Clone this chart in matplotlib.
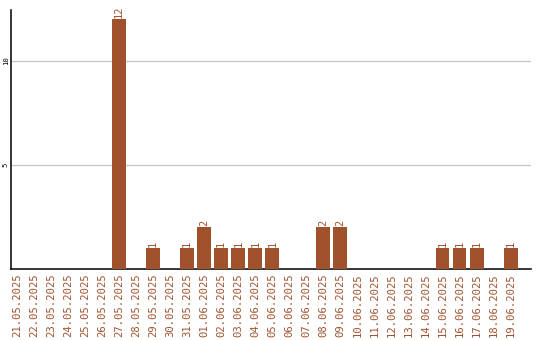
import matplotlib
matplotlib.use("Agg")
import matplotlib.pyplot as plt

dates = ["21.05.2025", "22.05.2025", "23.05.2025", "24.05.2025", "25.05.2025",
         "26.05.2025", "27.05.2025", "28.05.2025", "29.05.2025", "30.05.2025",
         "31.05.2025", "01.06.2025", "02.06.2025", "03.06.2025", "04.06.2025",
         "05.06.2025", "06.06.2025", "07.06.2025", "08.06.2025", "09.06.2025",
         "10.06.2025", "11.06.2025", "12.06.2025", "13.06.2025", "14.06.2025",
         "15.06.2025", "16.06.2025", "17.06.2025", "18.06.2025", "19.06.2025"]
counts = [0, 0, 0, 0, 0, 0, 12, 0, 1, 0,
          1, 2, 1, 1, 1, 1, 0, 0, 2, 2,
          0, 0, 0, 0, 0, 1, 1, 1, 0, 1]
yticks = [5, 10]

brown = "#a0522d"

fig = plt.figure(figsize=(5.4, 3.4), dpi=100)
ax = fig.add_axes([11 / 540, 71 / 340, 520 / 540, 259 / 340])

x = list(range(len(dates)))
ax.bar(x, counts, width=0.82, color=brown, zorder=3)
for i, v in zip(x, counts):
    if v > 0:
        ax.text(i, v + 0.08, str(v), rotation=90, ha="center", va="bottom",
                color=brown, fontsize=7.5, family="DejaVu Sans Mono")

ax.set_xlim(-0.35, 30.2)
ax.set_ylim(0, 12.45)
ax.set_xticks(x)
ax.set_xticklabels(dates, rotation=90, color=brown, fontsize=7.6,
                   family="DejaVu Sans Mono")
ax.set_yticks(yticks)
ax.set_yticklabels([str(t) for t in yticks], rotation=90, fontsize=5.2,
                   family="DejaVu Sans Mono", va="center")
ax.tick_params(axis="x", length=0, pad=3)
ax.tick_params(axis="y", length=0, pad=1.5)
ax.yaxis.grid(True, color="#c8c8c8", linewidth=1, zorder=0)
for s in ["top", "right"]:
    ax.spines[s].set_visible(False)
ax.spines["left"].set_linewidth(1.1)
ax.spines["bottom"].set_linewidth(1.1)

fig.savefig("out.png", dpi=100)
